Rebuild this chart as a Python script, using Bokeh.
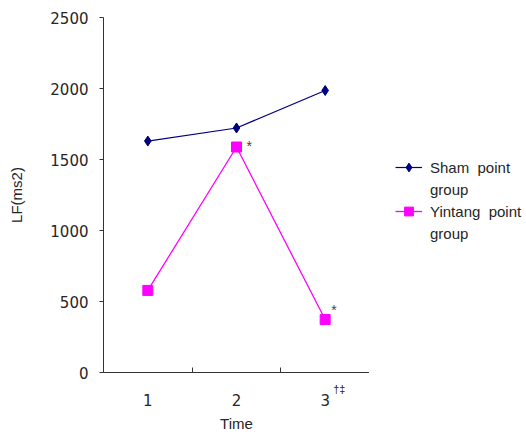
from bokeh.plotting import figure
from bokeh.layouts import row
from bokeh.models import (Range1d, FixedTicker, Legend, LegendItem, ColumnDataSource, LinearAxis)
from bokeh.core.properties import value
from bokeh.embed import file_html
from bokeh.resources import INLINE

times = [1, 2, 3]
time_labels = ["1", "2", "3"]
sham = [1630, 1722, 1986]
yintang = [578, 1588, 373]
yintang_marks = ["", "*", "*"]
x_mark = "\u2020\u2021"
y_ticks = [0, 500, 1000, 1500, 2000, 2500]
series_names = ["Sham  point", "Yintang  point"]
name_tail = "group"

# style (pixel offsets of the significance marks)
mark_dx = [0, 10, 6]
mark_dy = [0, -1, -10]

FONT = "Liberation Sans"
NUMFONT = "DejaVu Sans"
TXT = "#262626"
AX = "#333333"
SHAM_C = "#000080"
YIN_C = "#FF00FF"

p = figure(width=369, height=434, output_backend="svg", toolbar_location=None,
           x_range=Range1d(0.5, 3.5), y_range=Range1d(0, 2500), x_axis_location=None,
           min_border_left=103, min_border_top=17, min_border_bottom=62, min_border_right=0)
p.outline_line_color = None
p.grid.visible = False
p.background_fill_color = "white"

# y axis
p.yaxis.ticker = FixedTicker(ticks=y_ticks)
p.yaxis.major_tick_out = 4
p.yaxis.major_tick_in = 0
p.yaxis.minor_tick_line_color = None
p.yaxis.axis_label = "LF(ms2)"
p.yaxis.axis_label_text_font_style = "normal"
p.yaxis.axis_label_text_font = FONT
p.yaxis.axis_label_text_font_size = "15px"
p.yaxis.axis_label_text_color = TXT
p.yaxis.axis_label_standoff = 22
p.yaxis.major_label_text_font = NUMFONT
p.yaxis.major_label_text_font_size = "15px"
p.yaxis.major_label_text_color = TXT
p.yaxis.major_label_standoff = 11
p.yaxis.axis_line_color = AX
p.yaxis.major_tick_line_color = AX

# x axis (line, boundary ticks and the mark after "3")
mark_pos = times[2] + 0.16
xa = LinearAxis(ticker=FixedTicker(ticks=[mark_pos], minor_ticks=[0.5, 1.5, 2.5, 3.5]),
                major_label_overrides={mark_pos: x_mark},
                major_tick_in=0, major_tick_out=0, minor_tick_in=5, minor_tick_out=0,
                minor_tick_line_color=AX, axis_line_color=AX,
                major_label_text_font=FONT, major_label_text_font_size="11px",
                major_label_text_color=TXT, major_label_standoff=10)
p.add_layout(xa, "below")

# x axis labels 1, 2, 3 and title
xb = LinearAxis(ticker=FixedTicker(ticks=times),
                major_label_overrides={t: l for t, l in zip(times, time_labels)},
                major_tick_in=0, major_tick_out=0, minor_tick_line_color=None,
                major_tick_line_color=None, axis_line_color=None,
                major_label_text_font=NUMFONT, major_label_text_font_size="15px",
                major_label_text_color=TXT, major_label_standoff=-4,
                axis_label="Time", axis_label_text_font=FONT,
                axis_label_text_font_style="normal", axis_label_text_font_size="15px",
                axis_label_text_color=TXT, axis_label_standoff=6)
p.add_layout(xb, "below")

src = ColumnDataSource(dict(x=times, sham=sham, yin=yintang, marks=yintang_marks,
                            dx=mark_dx, dy=mark_dy))

def draw(fig):
    a = fig.line("x", "sham", source=src, line_color=SHAM_C, line_width=1.2)
    b = fig.scatter("x", "sham", source=src, marker="diamond", size=10,
                    fill_color=SHAM_C, line_color=SHAM_C)
    c = fig.line("x", "yin", source=src, line_color=YIN_C, line_width=1.3)
    d = fig.scatter("x", "yin", source=src, marker="square", size=10,
                    fill_color=YIN_C, line_color=YIN_C)
    return a, b, c, d

draw(p)
p.text("x", "yin", text="marks", source=src, x_offset="dx", y_offset="dy",
       text_font=value(FONT), text_font_size="14px", text_color="#444444",
       text_baseline="middle", text_align="left")

# legend panel
lf = figure(width=157, height=434, output_backend="svg", toolbar_location=None,
            x_range=Range1d(100, 101), y_range=Range1d(0, 1), min_border=0)
lf.axis.visible = False
lf.grid.visible = False
lf.outline_line_color = None
l1, m1, l2, m2 = draw(lf)
blank = lf.scatter("x", "sham", source=src, size=1, fill_alpha=0, line_alpha=0)

legend = Legend(items=[LegendItem(label=series_names[0], renderers=[l1, m1]),
                       LegendItem(label=name_tail, renderers=[blank]),
                       LegendItem(label=series_names[1], renderers=[l2, m2]),
                       LegendItem(label=name_tail, renderers=[blank])],
                location=(26, 128), margin=0, border_line_color=None,
                background_fill_alpha=0, glyph_width=27, glyph_height=22, label_height=22,
                label_text_font=FONT, label_text_font_size="15px", label_text_color=TXT,
                spacing=0, label_standoff=8, padding=0)
lf.add_layout(legend, "center")

open("out.html", "w").write(file_html(row(p, lf), INLINE))
